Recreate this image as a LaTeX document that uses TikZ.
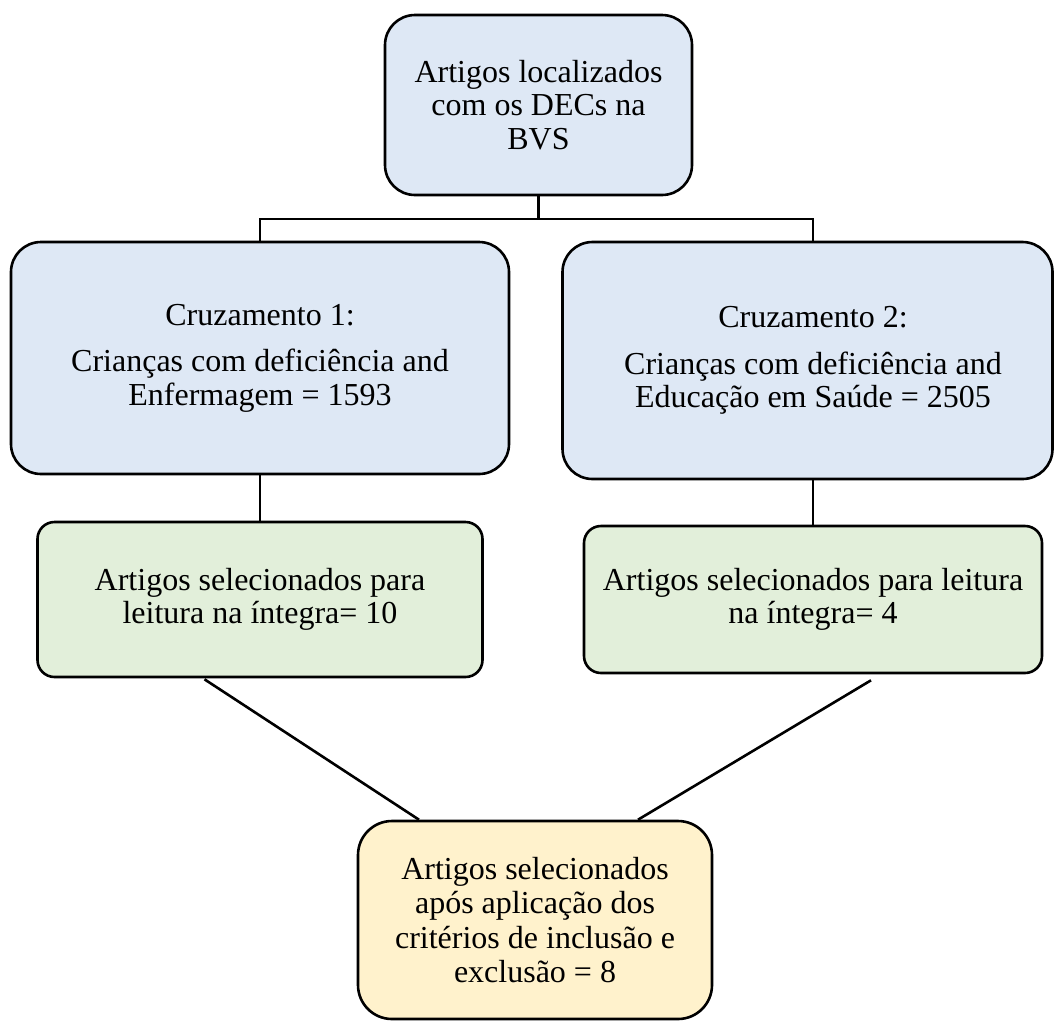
\documentclass[tikz,border=0pt]{standalone}
\usepackage{fontspec}
\setmainfont{Liberation Serif}
\definecolor{boxblue}{RGB}{222,232,245}
\definecolor{boxgreen}{RGB}{226,239,218}
\definecolor{boxyellow}{RGB}{255,242,204}
\tikzset{
  flowbox/.style={draw=black, line width=2.6pt, align=center, inner sep=0pt,
    font=\fontsize{32}{33.5}\selectfont, text=black},
  bluebox/.style={flowbox, fill=boxblue, rounded corners=30pt},
  greenbox/.style={flowbox, fill=boxgreen, rounded corners=17pt},
  yellowbox/.style={flowbox, fill=boxyellow, rounded corners=34pt, font=\fontsize{32}{34.5}\selectfont},
  link/.style={draw=black, line width=2.6pt}
}
\begin{document}
\begin{tikzpicture}[x=1pt,y=-1pt]
\useasboundingbox[fill=white] (0,0) rectangle (1054,1021);

\node[bluebox, minimum width=307pt, minimum height=180pt] (top) at (538.5,105)
  {Artigos localizados\\com os DECs na\\BVS};
\node[bluebox, minimum width=498pt, minimum height=232pt] (lb) at (260,358)
  {Cruzamento 1:\\[13pt]Crianças com deficiência and\\Enfermagem = 1593};
\node[bluebox, minimum width=490pt, minimum height=237pt] (rb) at (807.5,360.5)
  {\hspace*{11pt}Cruzamento 2:\\[13pt]\hspace*{11pt}Crianças com deficiência and\\\hspace*{11pt}Educação em Saúde = 2505};
\node[greenbox, minimum width=445pt, minimum height=155pt] (lg) at (260,599.5)
  {Artigos selecionados para\\leitura na íntegra= 10};
\node[greenbox, minimum width=458pt, minimum height=147pt] (rg) at (813,599.5)
  {Artigos selecionados para leitura\\na íntegra= 4};
\node[yellowbox, minimum width=354pt, minimum height=198pt] (bot) at (535,920)
  {Artigos selecionados\\após aplicação dos\\critérios de inclusão e\\exclusão = 8};

\coordinate (split) at (538.5,219);
\draw[link] (top.south) -- (split);
\draw[link] (lb.north) |- (split) -| (rg.north |- rb.north);
\draw[link] (lb.south) -- (lg.north);
\draw[link] (rb.south -| rg.north) -- (rg.north);
\draw[link] ([xshift=-55.5pt,yshift=-1pt]lg.south) -- ([xshift=-116pt]bot.north);
\draw[link] ([xshift=58pt,yshift=-6pt]rg.south) -- ([xshift=103pt]bot.north);
\end{tikzpicture}
\end{document}
